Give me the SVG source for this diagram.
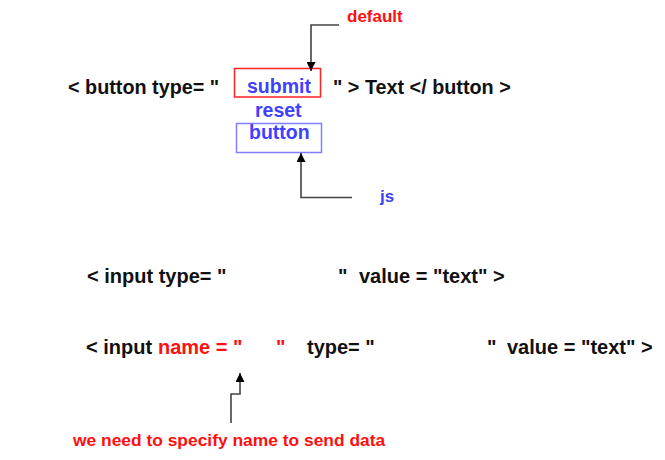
<svg xmlns="http://www.w3.org/2000/svg" width="665" height="460" viewBox="0 0 665 460">
<style>
text{font-family:"Liberation Sans",Arial,sans-serif;font-weight:bold}
.k{fill:#111}
.r{fill:#ff1010}
.b{fill:#4040ff}
.big{font-size:19.5px}
.sm{font-size:17px}
.conn{fill:none;stroke:#444;stroke-width:1.6}
</style>
<defs>
<marker id="ah" viewBox="0 0 10 10" refX="10" refY="5" markerWidth="10" markerHeight="9" markerUnits="userSpaceOnUse" orient="auto">
<path d="M0,0 L10,5 L0,10 z" fill="#000"/>
</marker>
</defs>
<rect width="665" height="460" fill="#fff"/>
<g id="button-line">
<text class="k" font-size="19.8" x="68" y="94">&lt; button type= "</text>
<text class="k" font-size="19.8" x="333" y="94">" &gt; Text &lt;/ button &gt;</text>
</g>
<g id="submit">
<rect x="234.5" y="68.5" width="86" height="28.5" fill="none" stroke="#ff2020" stroke-width="1.5"/>
<text class="b big" x="247" y="92.5">submit</text>
</g>
<g id="reset">
<text class="b big" x="255" y="116.5">reset</text>
</g>
<g id="button">
<rect x="236.5" y="123.5" width="85" height="29" fill="none" stroke="#8080ff" stroke-width="1.5"/>
<text class="b big" x="249" y="139">button</text>
</g>
<g id="default">
<text class="r sm" x="347" y="22">default</text>
</g>
<g id="js">
<text class="b sm" x="380" y="202">js</text>
</g>
<g id="input-line-1">
<text class="k" font-size="20" x="87" y="283">&lt; input type= "</text>
<text class="k" font-size="20" x="338" y="283">"</text>
<text class="k" font-size="20" x="359" y="283">value = "text" &gt;</text>
</g>
<g id="input-line-2">
<text class="k" font-size="20" x="86" y="354">&lt; input</text>
<text class="r" font-size="20" x="158" y="354">name = "</text>
<text class="r" font-size="20" x="276" y="354">"</text>
<text class="k" font-size="20" x="307" y="354">type= "</text>
<text class="k" font-size="20" x="487" y="354">"</text>
<text class="k" font-size="20" x="507" y="354">value = "text" &gt;</text>
</g>
<g id="note">
<text class="r" font-size="17.4" x="73" y="446">we need to specify name to send data</text>
</g>
<g id="connectors">
<path class="conn" d="M339,25 H311 V71" marker-end="url(#ah)"/>
<path class="conn" d="M352,197.5 H301 V153" marker-end="url(#ah)"/>
<path class="conn" d="M231,423 V394 H240 V373" marker-end="url(#ah)"/>
</g>
</svg>
